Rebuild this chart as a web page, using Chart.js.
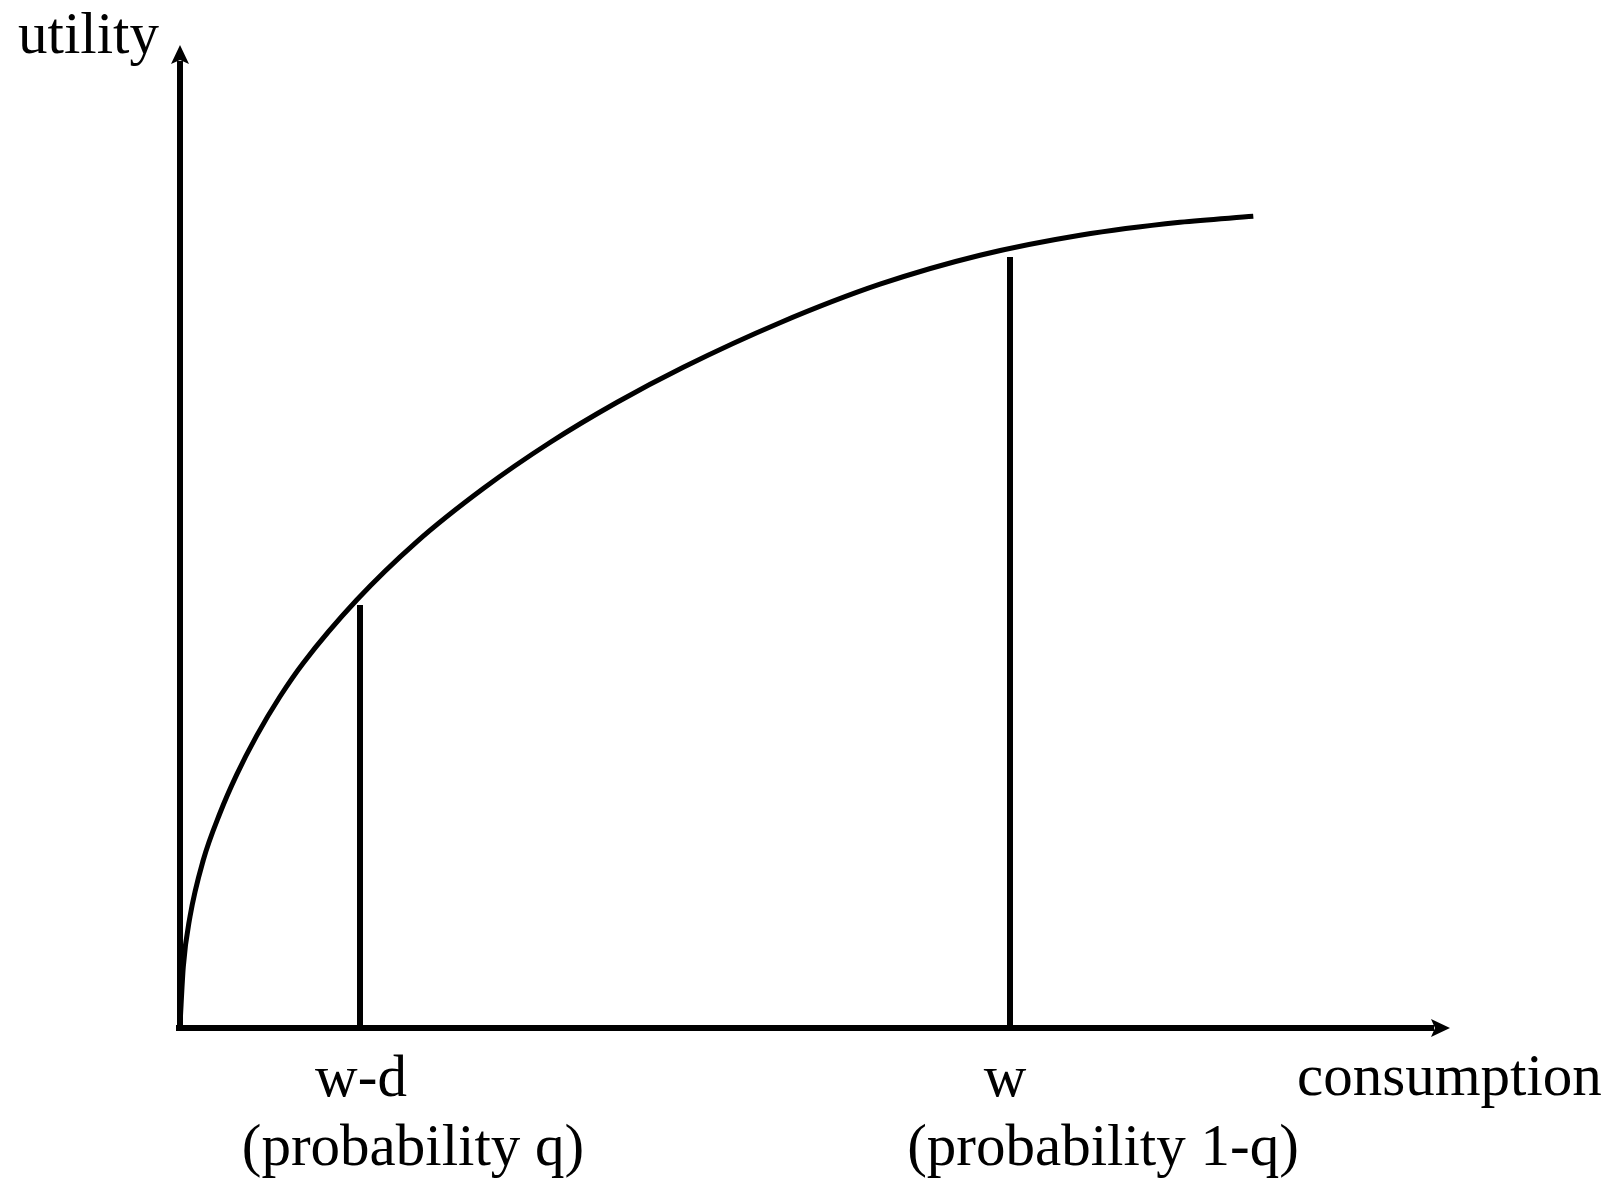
<!DOCTYPE html>
<html>
<head>
<meta charset="utf-8">
<script src="https://cdn.jsdelivr.net/npm/chart.js@4/dist/chart.umd.min.js"></script>
<style>
  html, body { margin: 0; padding: 0; background: #ffffff; }
  canvas { display: block; }
</style>
</head>
<body>
<canvas id="c" width="1613" height="1185"></canvas>
<script>
// ---- data (units: consumption / utility, arbitrary scale) ----
const curveX = [0, 0.33, 1.0, 2.33, 4.0, 5.67, 7.67, 10.0, 12.33, 17.67, 23.67, 30.33, 37.0, 43.67, 50.33, 60.0, 70.0, 80.0, 90.0, 100.0, 107.33];
const curveY = [0.3, 6.13, 11.13, 16.8, 21.5, 25.34, 29.24, 33.15, 36.51, 42.8, 48.62, 53.95, 58.55, 62.55, 66.08, 70.53, 74.38, 77.28, 79.28, 80.58, 81.17];

const markerX = [18.0, 83.0];        // w-d, w
const markerTop = [42.3, 77.1];      // height of vertical lines
const tickLabels = ['w-d', 'w'];
const tickLabelX = [18.1, 82.5];
const subLabels = ['(probability q)', '(probability 1-q)'];
const subLabelX = [23.3, 92.3];

const axisMaxX = 127;
const axisMaxY = 98.3;
const xAxisTitle = 'consumption';
const yAxisTitle = 'utility';

// ---- datasets ----
const pts = (xs, ys) => xs.map((x, i) => ({ x: x, y: ys[i] }));
const black = '#000000';
const lineDs = (data, w, extra) => Object.assign({
  data: data, showLine: true, borderColor: black, borderWidth: w,
  pointRadius: 0, pointHoverRadius: 0, fill: false, clip: false
}, extra || {});

const datasets = [
  lineDs(pts([0, 0], [0, axisMaxY - 1.6]), 6),
  lineDs(pts([-0.4, axisMaxX - 1.6], [0, 0]), 6),
  lineDs(pts(curveX, curveY), 5, { cubicInterpolationMode: 'monotone' }),
];
markerX.forEach((x, i) => datasets.push(lineDs(pts([x, x], [0, markerTop[i]]), 6)));

// ---- plugin: white background, arrowheads and texts ----
const decor = {
  id: 'decor',
  beforeDraw(chart) {
    const c = chart.ctx;
    c.save();
    c.fillStyle = '#ffffff';
    c.fillRect(0, 0, chart.width, chart.height);
    c.restore();
  },
  afterDatasetsDraw(chart) {
    const c = chart.ctx;
    const xs = chart.scales.x, ys = chart.scales.y;
    const ox = xs.getPixelForValue(0), oy = ys.getPixelForValue(0);
    const tx = xs.getPixelForValue(axisMaxX), ty = ys.getPixelForValue(axisMaxY);
    c.save();
    c.fillStyle = black;
    // y arrow
    c.beginPath();
    c.moveTo(ox, ty);
    c.lineTo(ox - 9, ty + 19);
    c.lineTo(ox, ty + 15);
    c.lineTo(ox + 9, ty + 19);
    c.closePath();
    c.fill();
    // x arrow
    c.beginPath();
    c.moveTo(tx, oy);
    c.lineTo(tx - 19, oy - 9);
    c.lineTo(tx - 15, oy);
    c.lineTo(tx - 19, oy + 9);
    c.closePath();
    c.fill();

    c.font = '59px "Liberation Serif", "Times New Roman", serif';
    c.textBaseline = 'alphabetic';
    c.textAlign = 'left';
    c.fillText(yAxisTitle, 18, ty + 8);
    c.fillText(xAxisTitle, 1297, oy + 67);
    c.textAlign = 'center';
    tickLabels.forEach((t, i) => {
      c.fillText(t, xs.getPixelForValue(tickLabelX[i]), oy + 68);
      c.fillText(subLabels[i], xs.getPixelForValue(subLabelX[i]), oy + 137);
    });
    c.restore();
  }
};

new Chart(document.getElementById('c'), {
  type: 'scatter',
  data: { datasets: datasets },
  options: {
    responsive: false,
    animation: false,
    events: [],
    layout: { padding: { left: 180, top: 45, right: 163, bottom: 157 } },
    plugins: { legend: { display: false }, tooltip: { enabled: false } },
    scales: {
      x: { type: 'linear', min: 0, max: axisMaxX, display: false },
      y: { type: 'linear', min: 0, max: axisMaxY, display: false }
    }
  },
  plugins: [decor]
});
</script>
</body>
</html>
